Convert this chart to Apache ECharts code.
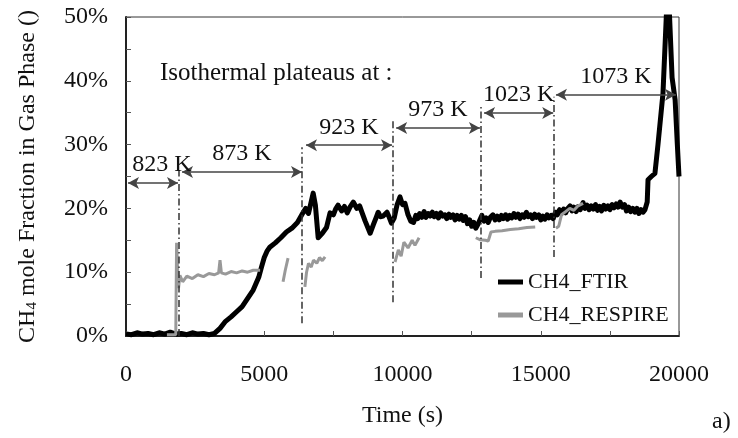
<!DOCTYPE html>
<html>
<head>
<meta charset="utf-8">
<script src="https://cdn.jsdelivr.net/npm/echarts@6/dist/echarts.min.js"></script>
<style>html,body{margin:0;padding:0;background:#fff;}#c{width:738px;height:438px;}</style>
</head>
<body>
<div id="c"></div>
<script>
// ---- data ----
const ftirTime = [0,200,400,600,800,1000,1200,1400,1600,1800,2000,2200,2400,2600,2800,3000,3200,3400,3600,3800,4000,4200,4400,4600,4800,4900,5000,5100,5200,5400,5600,5800,6000,6200,6400,6500,6600,6770,6850,6950,7100,7250,7380,7500,7580,7670,7800,7900,8000,8100,8220,8350,8450,8540,8650,8830,8950,9050,9120,9200,9300,9440,9520,9600,9700,9800,9910,10000,10090,10200,
  10300,10400,10480,10550,10620,10700,10780,10850,10930,11000,11080,11150,11230,11300,11380,11450,11530,11600,11680,11750,11830,11900,11980,12050,12130,12200,12280,12350,12430,12500,12580,12650,12730,12800,12870,12950,13030,13100,13180,13270,13350,13430,13500,13580,13650,13730,13800,13880,13950,14030,14100,14180,14250,14330,14400,14480,14550,14630,14700,14780,14850,14930,15000,15080,15150,15230,15300,15380,15450,15530,15600,15680,15750,15830,15900,15980,16060,16130,16200,16280,16350,16430,16530,16600,16680,16750,16830,16900,16980,17050,17130,17200,17280,17350,17430,17500,17580,17650,17730,17800,17870,17950,18030,18100,18180,18250,18330,18400,18480,18550,18630,18700,18770,
  18850,18880,19000,19130,19240,19420,19560,19640,19750,19860,19940,20000];
const ftirValue = [0.3,0.2,0.5,0.3,0.4,0.2,0.5,0.3,0.6,0.3,0.4,0.2,0.5,0.3,0.4,0.2,0.4,1.2,2.3,3.0,3.8,4.6,5.9,7.2,9.2,10.8,12.3,13.3,13.9,14.6,15.4,16.3,16.9,17.8,19.3,20.0,19.2,22.4,20.5,15.4,16.1,17.0,19.3,19.0,19.9,20.5,19.6,20.3,19.3,20.2,21.0,20.0,20.4,19.3,18.0,16.1,17.5,18.6,19.4,18.7,18.8,19.4,18.6,17.7,18.5,20.5,21.8,20.6,20.8,19.0,
  18.0,17.8,18.9,18.4,19.2,18.6,19.5,18.6,19.2,18.8,19.4,18.7,19.2,18.5,19.3,18.8,19.0,18.4,19.1,18.6,19.0,18.2,18.9,18.3,18.9,18.1,18.7,17.6,18.2,17.2,17.8,16.9,17.5,17.8,18.9,18.0,18.5,17.8,18.6,19.0,18.2,18.8,18.2,18.9,18.4,19.0,18.3,18.9,18.5,19.2,18.6,19.1,18.4,19.0,18.6,19.4,18.7,19.0,18.4,19.1,18.6,19.0,18.2,18.8,18.3,19.0,18.5,18.9,18.4,19.4,19.0,19.8,19.2,19.9,19.3,20.0,20.4,19.6,20.2,19.5,20.3,19.8,20.9,20.0,20.5,19.8,20.4,19.9,20.6,19.7,20.3,19.6,20.5,19.9,20.4,19.8,20.6,20.1,20.7,20.2,21.0,20.2,20.6,19.6,20.2,19.5,20.0,19.4,20.0,19.2,19.8,19.4,19.8,
  21.0,24.5,25.0,25.5,30.0,38.0,52.0,52.0,40.5,37.0,30.0,25.0];

const respireTime = [1480,1800,1830,1860,1900,1950,2050,2200,2400,2600,2800,3000,3200,3350,3400,3450,3600,3800,4000,4200,4400,4600,4850,4900,
  5680,5760,5860,5900,
  6470,6530,6600,6700,6780,6900,7000,7100,7200,7250,
  9730,9850,9950,10050,10200,10350,10450,10600,10650,
  12650,12800,13000,13100,13200,13350,13600,13900,14200,14500,14800,14850,
  15550,15650,15750,15900,16050,16200,16350,16530];
const respireValue = [0.2,0.2,14.6,11.0,7.5,9.5,8.5,9.4,9.0,9.6,9.3,9.8,9.6,9.9,11.9,9.9,9.7,10.1,9.9,10.2,10.0,10.3,10.3,null,
  8.5,10.3,12.2,null,
  7.7,10.0,11.4,10.8,11.9,11.4,12.3,11.8,12.4,null,
  11.6,13.5,12.5,14.7,13.8,15.0,14.2,15.4,null,
  15.4,15.1,15.0,14.9,16.3,16.4,16.5,16.7,16.8,17.0,17.1,null,
  16.9,17.2,19.0,19.5,20.0,19.7,20.4,20.8];

// plateau boundaries (dash-dot verticals)
const boundTime = [1920, 6370, 9660, 12840, 15480];
const boundLow  = [0, 2, 5.3, 9.1, 12.4];
const boundHigh = [26, 29.6, 33.9, 36.2, 37.5];

// double arrows with temperatures
const plateauLabels = ['823 K','873 K','923 K','973 K','1023 K','1073 K'];
const arrowStart = [72, 2025, 6510, 9770, 12950, 15550];
const arrowEnd   = [1880, 6366, 9620, 12800, 15450, 19890];
const arrowLevel = [24.0, 25.7, 29.9, 32.6, 34.95, 37.8];

const xTicks = [0, 5000, 10000, 15000, 20000];
const yTicks = [0, 10, 20, 30, 40, 50];

const font = '"Liberation Serif","Times New Roman",serif';

const ftirData = ftirTime.map((t, i) => [t, ftirValue[i]]);
const respireData = respireTime.map((t, i) => [t, respireValue[i]]);

const vLines = boundTime.map((t, i) => [{coord: [t, boundLow[i]]}, {coord: [t, boundHigh[i]]}]);
const arrows = plateauLabels.map((n, i) => [
  {coord: [arrowStart[i], arrowLevel[i]], name: n, label: i === 0 ? {padding: [0, 0, 0, 18]} : {}},
  {coord: [arrowEnd[i], arrowLevel[i]]}
]);

const chart = echarts.init(document.getElementById('c'), null, {renderer: 'canvas'});
chart.setOption({
  animation: false,
  backgroundColor: '#fff',
  grid: {left: 126, right: 59, top: 17, bottom: 102, show: true, borderColor: '#333', borderWidth: 1, containLabel: false},
  legend: {
    orient: 'vertical', left: 493, top: 265, itemGap: 9, itemWidth: 25, itemHeight: 5,
    textStyle: {fontFamily: font, fontSize: 22, color: '#111', lineHeight: 24},
    data: [{name: 'CH4_FTIR', icon: 'rect'}, {name: 'CH4_RESPIRE', icon: 'rect'}]
  },
  xAxis: {
    type: 'value', min: 0, max: 20000, interval: 2500,
    name: 'Time (s)', nameLocation: 'middle', nameGap: 68,
    nameTextStyle: {fontFamily: font, fontSize: 24, color: '#111'},
    axisLine: {show: true, lineStyle: {color: '#222', width: 2}},
    axisTick: {show: true, inside: true, length: 5, lineStyle: {color: '#555'}},
    splitLine: {show: false},
    axisLabel: {fontFamily: font, fontSize: 24, color: '#111', margin: 27,
      formatter: v => xTicks.indexOf(v) >= 0 ? String(v) : ''}
  },
  yAxis: {
    type: 'value', min: 0, max: 50, interval: 5,
    name: '{a|CH}{s|4}{a| mole Fraction in Gas Phase ()}', nameLocation: 'middle', nameGap: 86, nameRotate: 90,
    nameTextStyle: {rich: {
      a: {fontFamily: font, fontSize: 24, color: '#111'},
      s: {fontFamily: font, fontSize: 15, color: '#111', verticalAlign: 'bottom', padding: [10, 0, 0, 0]}
    }},
    axisLine: {show: true, lineStyle: {color: '#222', width: 2}},
    axisTick: {show: true, inside: true, length: 5, lineStyle: {color: '#555'}},
    splitLine: {show: false},
    axisLabel: {fontFamily: font, fontSize: 24, color: '#111', margin: 18,
      formatter: v => yTicks.indexOf(v) >= 0 ? v + '%' : ''}
  },
  series: [
    {
      name: 'CH4_FTIR', type: 'line', data: ftirData, symbol: 'none', z: 3,
      color: '#000', lineStyle: {color: '#000', width: 5, join: 'round'}, clip: true
    },
    {
      name: 'CH4_RESPIRE', type: 'line', data: respireData, symbol: 'none', z: 4, connectNulls: false,
      color: '#999', lineStyle: {color: '#999', width: 3}, clip: true
    },
    {
      name: 'bounds', type: 'line', data: [], silent: true, z: 2,
      markLine: {
        silent: true, symbol: ['none', 'none'], animation: false,
        lineStyle: {color: '#333', width: 1.5, type: [7, 3, 1.5, 3]},
        label: {show: false},
        data: vLines
      }
    },
    {
      name: 'arrows', type: 'line', data: [], silent: true, z: 2,
      markLine: {
        silent: true, symbol: ['arrow', 'arrow'], symbolSize: [9, 11], animation: false,
        lineStyle: {color: '#444', width: 1.5, type: 'solid'},
        label: {show: true, position: 'middle', formatter: p => p.name, distance: 6,
          fontFamily: font, fontSize: 24, color: '#111'},
        data: arrows
      }
    }
  ],
  graphic: [
    {type: 'text', left: 160, top: 61, style: {text: 'Isothermal plateaus at :', font: '25px ' + font, fill: '#111'}},
    {type: 'text', left: 712, top: 410, style: {text: 'a)', font: '24px ' + font, fill: '#111'}}
  ]
});
</script>
</body>
</html>
